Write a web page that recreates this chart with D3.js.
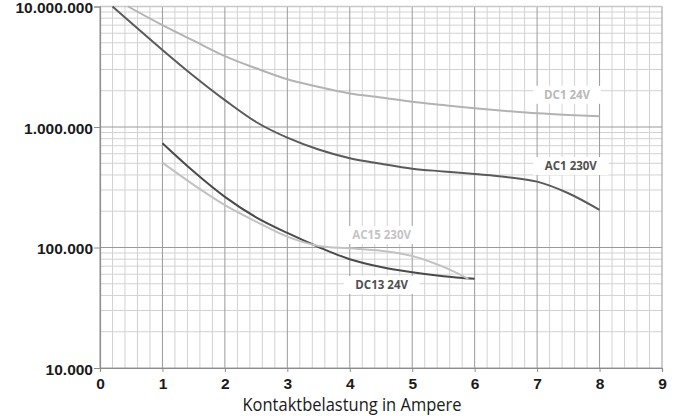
<!DOCTYPE html>
<html>
<head>
<meta charset="utf-8">
<script src="https://cdn.jsdelivr.net/npm/d3@7"></script>
<style>
  body { margin: 0; background: #fff; }
  svg { display: block; }
</style>
</head>
<body>
<div id="chart"></div>
<script>
// curve data (Ampere -> switching cycles)
var ampDC1 = [0.45, 1, 1.5, 2, 2.5, 3, 3.5, 4, 4.5, 5, 5.5, 6, 6.5, 7, 7.5, 8];
var valDC1 = [10e6, 7.0e6, 5.2e6, 3.88e6, 3.07e6, 2.49e6, 2.15e6, 1.9e6, 1.76e6, 1.62e6, 1.52e6, 1.43e6, 1.36e6, 1.30e6, 1.26e6, 1.23e6];

var ampAC1 = [0.2, 1, 1.5, 2, 2.5, 3, 3.5, 4, 4.5, 5, 5.5, 6, 6.5, 7, 7.5, 8];
var valAC1 = [10e6, 4.36e6, 2.65e6, 1.67e6, 1.1e6, 815e3, 650e3, 550e3, 495e3, 451e3, 428e3, 407e3, 385e3, 352e3, 282e3, 205e3];

var ampDC13 = [1, 1.5, 2, 2.5, 3, 3.5, 4, 4.5, 5, 5.5, 6];
var valDC13 = [733e3, 427e3, 263e3, 178e3, 132e3, 101e3, 80e3, 69e3, 62.4e3, 57.8e3, 55e3];

var ampAC15 = [1, 1.5, 2, 2.5, 3, 3.5, 4, 4.5, 5, 5.5, 5.9];
var valAC15 = [506e3, 331e3, 225e3, 164e3, 123e3, 103e3, 98.5e3, 94e3, 85e3, 69e3, 55e3];

var seriesNames = ["DC1 24V", "AC1 230V", "DC13 24V", "AC15 230V"];
var labelAmp = [7.48, 7.54, 4.51, 4.51];
var labelVal = [1.85e6, 474e3, 48.9e3, 127e3];

var xTicks = [0, 1, 2, 3, 4, 5, 6, 7, 8, 9];
var yTicks = [1e4, 1e5, 1e6, 1e7];
var xTitle = "Kontaktbelastung in Ampere";

var series = [
  {name: seriesNames[0], amp: ampDC1, val: valDC1, color: "#b3b3b3", text: "#b9b9b9", lw: 2},
  {name: seriesNames[1], amp: ampAC1, val: valAC1, color: "#5a5a5a", text: "#505050", lw: 2},
  {name: seriesNames[2], amp: ampDC13, val: valDC13, color: "#4a4a4a", text: "#505050", lw: 2},
  {name: seriesNames[3], amp: ampAC15, val: valAC15, color: "#c2c2c2", text: "#c4c4c4", lw: 2}
];
series.forEach(function(s, i) { s.lx = labelAmp[i]; s.ly = labelVal[i]; });

var W = 677, H = 416;
var svg = d3.select("#chart").append("svg")
    .attr("width", W)
    .attr("height", H);

var x = d3.scaleLinear().domain([0, 9]).range([100, 662]);
var y = d3.scaleLog().domain([1e4, 1e7]).range([368, 6.5]);

var de = d3.formatLocale({decimal: ",", thousands: ".", grouping: [3], currency: ["", "€"]});
var fmt = de.format(",");

// minor grid
var minorX = d3.range(0, 9.01, 0.2).filter(function(d) { return Math.abs(d - Math.round(d)) > 0.01; });
var minorY = [];
[1e4, 1e5, 1e6].forEach(function(dec) {
  for (var k = 2; k <= 9; k++) minorY.push(dec * k);
});

var grid = svg.append("g").attr("class", "grid");
grid.selectAll(".vminor").data(minorX).enter().append("line")
    .attr("x1", function(d) { return x(d); })
    .attr("x2", function(d) { return x(d); })
    .attr("y1", y(1e7)).attr("y2", y(1e4))
    .attr("stroke", "#d2d2d2").attr("stroke-width", 1);
grid.selectAll(".hminor").data(minorY).enter().append("line")
    .attr("x1", x(0)).attr("x2", x(9))
    .attr("y1", function(d) { return y(d); })
    .attr("y2", function(d) { return y(d); })
    .attr("stroke", "#d2d2d2").attr("stroke-width", 1);

// major grid
grid.selectAll(".vmajor").data(xTicks).enter().append("line")
    .attr("x1", function(d) { return x(d); })
    .attr("x2", function(d) { return x(d); })
    .attr("y1", y(1e7)).attr("y2", y(1e4))
    .attr("stroke", "#9a9a9a").attr("stroke-width", 1);
grid.selectAll(".hmajor").data(yTicks.slice(0, 3)).enter().append("line")
    .attr("x1", x(0)).attr("x2", x(9))
    .attr("y1", function(d) { return y(d); })
    .attr("y2", function(d) { return y(d); })
    .attr("stroke", "#9a9a9a").attr("stroke-width", 1);
// top border is lighter
grid.append("line")
    .attr("x1", x(0)).attr("x2", x(9))
    .attr("y1", y(1e7)).attr("y2", y(1e7))
    .attr("stroke", "#c8c8c8").attr("stroke-width", 1.5);

// axes
var yAxis = svg.append("g")
    .attr("transform", "translate(" + x(0) + ",0)")
    .call(d3.axisLeft(y).tickValues(yTicks).tickFormat(fmt).tickSize(6).tickPadding(1));
var xAxis = svg.append("g")
    .attr("transform", "translate(0," + y(1e4) + ")")
    .call(d3.axisBottom(x).tickValues(xTicks).tickFormat(d3.format("d")).tickSize(4).tickPadding(6));

[xAxis, yAxis].forEach(function(a) {
  a.select(".domain").attr("stroke", "#8c8c8c").attr("stroke-width", 1.2);
  a.selectAll(".tick line").attr("stroke", "#8c8c8c");
  a.selectAll("text")
    .attr("fill", "#1a1a1a")
    .style("font-family", "'Liberation Sans', Arial, sans-serif")
    .style("font-weight", "bold")
    .style("font-size", "15.5px");
});
yAxis.selectAll("text").attr("dy", "0.4em");
xAxis.selectAll("text").attr("dy", "0.72em");

// axis title
svg.append("text")
    .attr("x", 352)
    .attr("y", 411)
    .attr("text-anchor", "middle")
    .attr("textLength", 219)
    .attr("lengthAdjust", "spacingAndGlyphs")
    .attr("fill", "#1a1a1a")
    .style("font-family", "'Open Sans', 'Noto Sans', sans-serif")
    .style("font-size", "19px")
    .text(xTitle);

// curves
var line = d3.line()
    .x(function(d) { return x(d[0]); })
    .y(function(d) { return y(d[1]); })
    .curve(d3.curveCatmullRom.alpha(0.5));

svg.append("g").selectAll("path").data(series).enter().append("path")
    .attr("d", function(s) { return line(d3.zip(s.amp, s.val)); })
    .attr("fill", "none")
    .attr("stroke", function(s) { return s.color; })
    .attr("stroke-width", function(s) { return s.lw; });

// curve labels with white box
var labels = svg.append("g").selectAll("g").data(series).enter().append("g")
    .attr("transform", function(s) { return "translate(" + x(s.lx) + "," + y(s.ly) + ")"; });

labels.append("rect")
    .attr("x", function(s) { return -s.name.length * 4.1 - 5; })
    .attr("width", function(s) { return s.name.length * 8.2 + 10; })
    .attr("y", -9)
    .attr("height", 18)
    .attr("fill", "#fff");

labels.append("text")
    .attr("text-anchor", "middle")
    .attr("y", 4)
    .attr("fill", function(s) { return s.text; })
    .style("font-family", "'Open Sans', 'Noto Sans', sans-serif")
    .style("font-weight", "bold")
    .style("font-size", "11.5px")
    .text(function(s) { return s.name; });
</script>
</body>
</html>
